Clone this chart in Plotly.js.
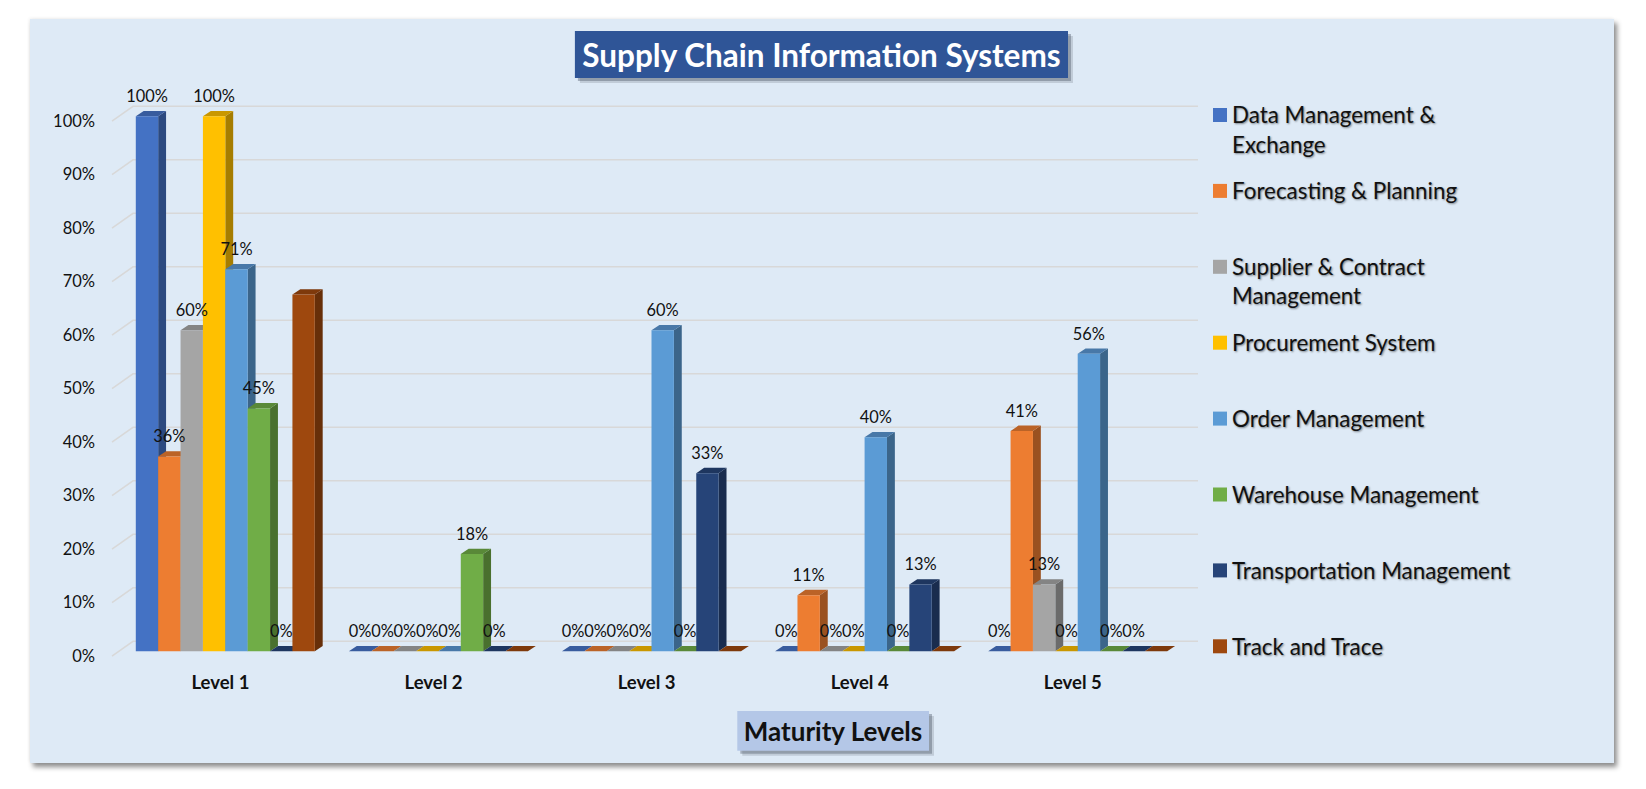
<!DOCTYPE html>
<html>
<head>
<meta charset="utf-8">
<title>Supply Chain Information Systems</title>
<script src="https://cdn.plot.ly/plotly-3.0.1.min.js"></script>
<style>
  html, body { margin: 0; padding: 0; background: #fff; overflow: hidden; }
  #panel { position: absolute; left: 30px; top: 19px; width: 1584px; height: 744px; background: #DEEAF6;
           box-shadow: 3px 4px 5px rgba(0,0,0,.45), -1px -1px 3px rgba(0,0,0,.06); }
  #chartDiv { position: absolute; left: 0; top: 0; width: 1646px; height: 789px; }
</style>
</head>
<body>
<div id="panel"></div>
<div id="chartDiv"></div>
<script>
const levels = ["Level 1", "Level 2", "Level 3", "Level 4", "Level 5"];
const yTicks = [0, 10, 20, 30, 40, 50, 60, 70, 80, 90, 100];

const dataManagement = [100, 0, 0, 0, 0];
const forecasting = [36.4, 0, 0, 10.5, 41.2];
const supplier = [60, 0, 0, 0, 12.5];
const procurement = [100, 0, 0, 0, 0];
const orderManagement = [71.4, 0, 60, 40, 55.6];
const warehouse = [45.4, 18.2, 0, 0, 0];
const transportation = [0, 0, 33.3, 12.5, 0];
const trackTrace = [66.7, 0, 0, 0, 0];

const names = ["Data Management & Exchange", "Forecasting & Planning", "Supplier & Contract Management", "Procurement System",
  "Order Management", "Warehouse Management", "Transportation Management", "Track and Trace"];
const legendLines = [["Data Management &", "Exchange"], ["Forecasting & Planning"], ["Supplier & Contract", "Management"], ["Procurement System"],
  ["Order Management"], ["Warehouse Management"], ["Transportation Management"], ["Track and Trace"]];
const series = [dataManagement, forecasting, supplier, procurement, orderManagement, warehouse, transportation, trackTrace];

const frontColors = ["#4472C4", "#ED7D31", "#A5A5A5", "#FFC000", "#5B9BD5", "#70AD47", "#264478", "#9E480E"];
const sideColors = ["#2C4A80", "#9A5120", "#6B6B6B", "#A67D00", "#3B658A", "#49702E", "#192C4E", "#672F09"];
const topColors = ["#385C9E", "#BB6327", "#848484", "#C99700", "#4878A8", "#598938", "#1E365F", "#7E390B"];

const W = 1646, H = 789;
const FONT = "Lato, Carlito, Calibri, sans-serif";

// pixel <-> data helpers for the chart frame
const dataX = px => (px - 225.3) / 213.1;
const dataY = py => (651.3 - py) / 5.35;
const paperX = px => px / W;
const paperY = py => 1 - py / H;

const barW = 0.105;      // one bar, in category units
const depthX = 0.037;    // 3d depth of a bar
const depthY = 0.99;

const traces = [];

// back wall gridlines + the little diagonal on the side wall
const gridX = [], gridY = [];
yTicks.forEach(v => {
  gridX.push(dataX(112), dataX(133), dataX(1198), null);
  gridY.push(v - 0.9, v + 1.87, v + 1.87, null);
});
traces.push({
  x: gridX, y: gridY, type: "scatter", mode: "lines", zorder: -1,
  line: { color: "#D8D8D8", width: 1.5 }, hoverinfo: "skip", showlegend: false,
});

series.forEach((vals, s) => {
  const sideX = [], sideY = [], topX = [], topY = [], barX = [];
  vals.forEach((v, i) => {
    const x0 = i + (s - 4) * barW, x1 = x0 + barW;
    barX.push(i);
    sideX.push(x1, x1 + depthX, x1 + depthX, x1, x1, null);
    sideY.push(0, depthY, v + depthY, v, 0, null);
    topX.push(x0, x1, x1 + depthX, x0 + depthX, x0, null);
    topY.push(v, v, v + depthY, v + depthY, v, null);
  });
  traces.push({
    x: sideX, y: sideY, type: "scatter", mode: "lines", fill: "toself", fillcolor: sideColors[s],
    line: { width: 0 }, hoverinfo: "skip", showlegend: false, zorder: 2 * s,
  });
  traces.push({
    x: topX, y: topY, type: "scatter", mode: "lines", fill: "toself", fillcolor: topColors[s],
    line: { width: 0 }, hoverinfo: "skip", showlegend: false, zorder: 2 * s,
  });
  traces.push({
    x: barX, y: vals, name: names[s], type: "bar", zorder: 2 * s + 1,
    marker: { color: frontColors[s] }, showlegend: false,
  });
});

// data labels, Track and Trace has none
const labelX = [], labelY = [], labelText = [];
series.slice(0, 7).forEach((vals, s) => {
  vals.forEach((v, i) => {
    labelX.push(i + (s - 3.5) * barW);
    labelY.push(v + 3.4);
    labelText.push(Math.round(v) + "%");
  });
});
traces.push({
  x: labelX, y: labelY, text: labelText, type: "scatter", mode: "text", textposition: "middle center",
  textfont: { family: FONT, size: 16.4, color: "#111" }, cliponaxis: false,
  hoverinfo: "skip", showlegend: false, zorder: 50,
});

// hand made legend, the original has evenly spaced rows with wrapped names
const shapes = [];
const annotations = [];
const legendTop = 115, legendStep = 75.9;
legendLines.forEach((lines, s) => {
  const cy = legendTop + s * legendStep;
  shapes.push({
    type: "rect", xref: "paper", yref: "paper", layer: "below", line: { width: 0 }, fillcolor: frontColors[s],
    x0: paperX(1213), x1: paperX(1227), y0: paperY(cy + 7), y1: paperY(cy - 7),
  });
  lines.forEach((line, j) => {
    annotations.push({
      text: line, xref: "paper", yref: "paper", x: paperX(1229.5), y: paperY(cy + j * 29),
      xanchor: "left", yanchor: "middle", showarrow: false,
      font: { family: FONT, size: 22.4, color: "#111", shadow: "1px 1px 2px rgba(0,0,0,.45)" },
    });
  });
});

// title boxes with their shadows
function box(x0, y0, x1, y1, color) {
  [[5, "rgba(60,70,85,.18)"], [3, "rgba(60,70,85,.35)"]].forEach(([o, c]) => {
    shapes.push({
      type: "rect", xref: "paper", yref: "paper", layer: "below", line: { width: 0 }, fillcolor: c,
      x0: paperX(x0 + o), x1: paperX(x1 + o), y0: paperY(y1 + o), y1: paperY(y0 + o),
    });
  });
  shapes.push({
    type: "rect", xref: "paper", yref: "paper", layer: "below", line: { width: 0 }, fillcolor: color,
    x0: paperX(x0), x1: paperX(x1), y0: paperY(y1), y1: paperY(y0),
  });
}
box(574.9, 31, 1068, 78, "#2F5597");
box(737.3, 711, 929, 750.7, "#B4C7E7");

const layout = {
  width: W, height: H,
  margin: { l: 0, r: 0, t: 0, b: 0 },
  paper_bgcolor: "rgba(0,0,0,0)",
  plot_bgcolor: "rgba(0,0,0,0)",
  barmode: "group", bargap: 0.16, bargroupgap: 0,
  showlegend: false,
  title: {
    text: "<b>Supply Chain Information Systems</b>",
    xref: "paper", yref: "paper", x: paperX(821.5), y: paperY(56), xanchor: "center", yanchor: "middle",
    font: { family: FONT, size: 31.5, color: "#fff" },
  },
  xaxis: {
    // domain runs far to the right so the axis title centres under the whole panel
    domain: [paperX(96), paperX(1570)],
    range: [dataX(96), dataX(1570)],
    tickmode: "array", tickvals: levels.map((l, i) => i - 0.023), ticktext: levels,
    ticklabelstandoff: 1,
    tickfont: { family: FONT, size: 18.5, color: "#111", weight: "bold" },
    showgrid: false, zeroline: false, showline: false, ticks: "",
    title: {
      text: "<b>Maturity Levels</b>", standoff: 31,
      font: { family: FONT, size: 26, color: "#111" },
    },
  },
  yaxis: {
    domain: [paperY(668), paperY(30)],
    range: [dataY(668), dataY(30)],
    tickmode: "array", tickvals: yTicks.map(v => v - 0.88), ticktext: yTicks.map(v => v + "%"),
    tickfont: { family: FONT, size: 16.5, color: "#111" },
    showgrid: false, zeroline: false, showline: false, ticks: "",
  },
  shapes: shapes,
  annotations: annotations,
};

Plotly.newPlot("chartDiv", traces, layout, { displayModeBar: false });
</script>
</body>
</html>
